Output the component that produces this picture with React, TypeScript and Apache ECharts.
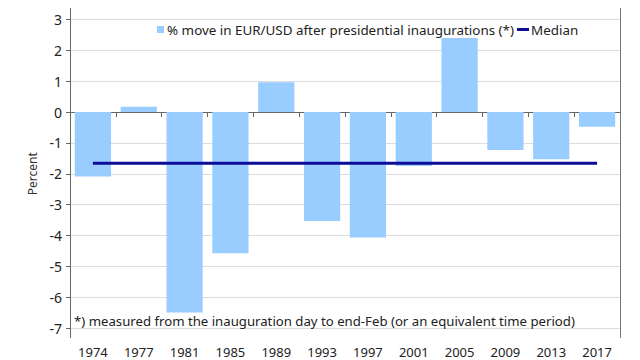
import React, { useEffect, useRef } from "react";
import * as echarts from "echarts";

const years = ["1974", "1977", "1981", "1985", "1989", "1993", "1997", "2001", "2005", "2009", "2013", "2017"];
const moves = [-2.09, 0.17, -6.5, -4.58, 0.97, -3.53, -4.07, -1.75, 2.4, -1.23, -1.53, -0.48];
const median = -1.66;
const medianLine = years.map(() => median);
const barName = "% move in EUR/USD after presidential inaugurations (*)";
const lineName = "Median";
const footnote = "*) measured from the inauguration day to end-Feb (or an equivalent time period)";

const FONT = "'Noto Sans', 'Open Sans', sans-serif";

export default function App() {
  const ref = useRef<HTMLDivElement>(null);
  useEffect(() => {
    if (!ref.current) return;
    const chart = echarts.init(ref.current, undefined, { renderer: "svg" });
    chart.setOption({
      animation: false,
      backgroundColor: "#ffffff",
      textStyle: { fontFamily: FONT },
      grid: { left: 70, right: 20, top: 19.5, bottom: 32, containLabel: false },
      legend: [
        {
          data: [barName],
          left: 152,
          top: 18,
          itemWidth: 7,
          itemHeight: 7,
          itemGap: 4,
          icon: "rect",
          textStyle: { fontFamily: FONT, fontSize: 13.4, color: "#222", padding: [0, 0, 0, -2] },
        },
        {
          data: [lineName],
          left: 512,
          top: 18,
          itemWidth: 12,
          itemHeight: 3,
          icon: "rect",
          textStyle: { fontFamily: FONT, fontSize: 13.4, color: "#222", padding: [0, 0, 0, -3] },
        },
      ],
      xAxis: {
        type: "category",
        data: years,
        offset: 10,
        axisLine: { lineStyle: { color: "#666", width: 1 } },
        axisTick: { show: true, length: 5, alignWithLabel: false, lineStyle: { color: "#666" } },
        axisLabel: { fontFamily: FONT, fontSize: 13, color: "#222", margin: 7 },
        splitLine: { show: false },
      },
      yAxis: {
        type: "value",
        min: -7,
        max: 3,
        interval: 1,
        name: "Percent",
        nameLocation: "middle",
        nameGap: 26,
        nameTextStyle: { fontFamily: FONT, fontSize: 12, color: "#333" },
        axisLine: { show: false },
        axisTick: { show: true, length: 4, lineStyle: { color: "#666" } },
        axisLabel: { fontFamily: FONT, fontSize: 14, color: "#222", margin: 8 },
        splitLine: { show: true, lineStyle: { color: "#dcdcdc", width: 1 } },
      },
      graphic: [
        { type: "line", shape: { x1: 70.5, y1: 8, x2: 70.5, y2: 338 }, style: { stroke: "#666", lineWidth: 1 }, z: 10 },
        { type: "line", shape: { x1: 620.5, y1: 8, x2: 620.5, y2: 338 }, style: { stroke: "#777", lineWidth: 1 }, z: 10 },
        {
          type: "text",
          left: 74,
          top: 314,
          style: { text: footnote, fontFamily: FONT, fontSize: 13.2, fill: "#222" },
          z: 10,
        },
      ],
      series: [
        {
          name: barName,
          type: "bar",
          data: moves,
          barCategoryGap: "21%",
          itemStyle: { color: "#99ccff" },
        },
        {
          name: lineName,
          type: "line",
          data: medianLine,
          symbol: "none",
          lineStyle: { color: "#0c0c99", width: 3 },
          itemStyle: { color: "#0c0c99" },
          z: 5,
        },
      ],
    });
    return () => chart.dispose();
  }, []);
  return <div ref={ref} style={{ width: 640, height: 360, position: "absolute", left: 0, top: 0 }} />;
}
